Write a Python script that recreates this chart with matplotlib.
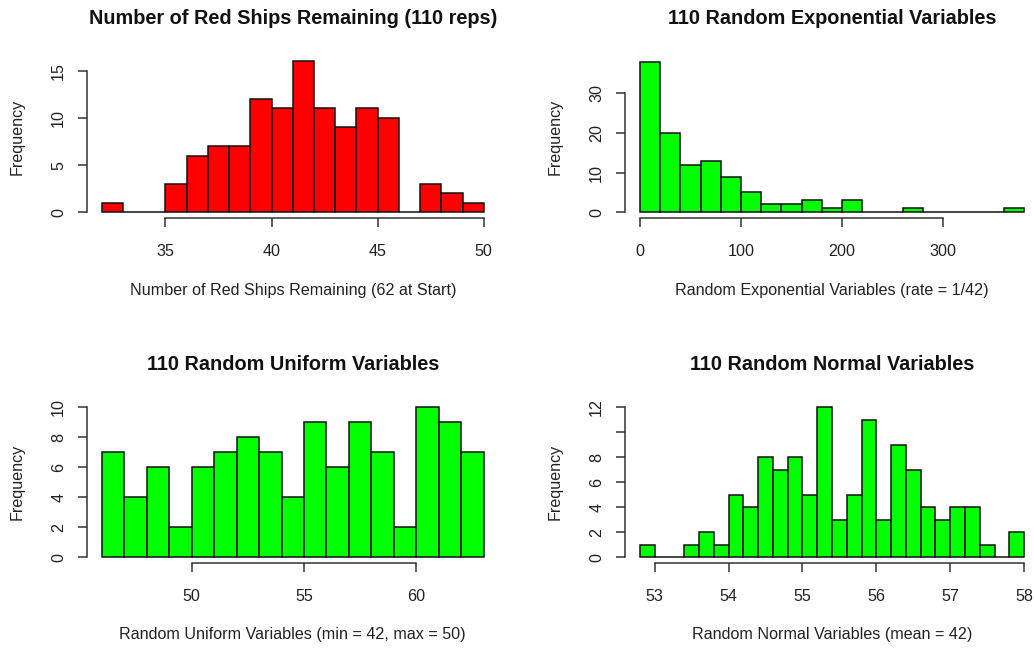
import numpy as np
import matplotlib
matplotlib.use("Agg")
import matplotlib.pyplot as plt

plt.rcParams['font.family'] = ['Liberation Sans', 'DejaVu Sans']

W, H = 1034, 649

# ---- data ----
red_edges_start, red_binw = 32, 1
red_counts = [1, 0, 0, 3, 6, 7, 7, 12, 11, 16, 11, 9, 11, 10, 0, 3, 2, 1]
red_xticks = [35, 40, 45, 50]
red_yticks = [0, 5, 10, 15]

exp_edges_start, exp_binw = 0, 20
exp_counts = [38, 20, 12, 13, 9, 5, 2, 2, 3, 1, 3, 0, 0, 1, 0, 0, 0, 0, 1]
exp_xticks = [0, 100, 200, 300]
exp_yticks = [0, 10, 20, 30]

uni_edges_start, uni_binw = 46, 1
uni_counts = [7, 4, 6, 2, 6, 7, 8, 7, 4, 9, 6, 9, 7, 2, 10, 9, 7]
uni_xticks = [50, 55, 60]
uni_yticks = [0, 2, 4, 6, 8, 10]

nor_edges_start, nor_binw = 52.8, 0.2
nor_counts = [1, 0, 0, 1, 2, 1, 5, 4, 8, 7, 8, 5, 12, 3, 5, 11, 3, 9, 7, 4, 3, 4, 4, 1, 0, 2]
nor_xticks = [53, 54, 55, 56, 57, 58]
nor_yticks = [0, 2, 4, 6, 8, 10, 12]
nor_yticklabels = ['0', '2', '4', '6', '8', '', '12']

panels = [
    dict(start=red_edges_start, bw=red_binw, counts=red_counts, xt=red_xticks, yt=red_yticks, ytl=None,
         color='#FF0000', title='Number of Red Ships Remaining (110 reps)',
         xlabel='Number of Red Ships Remaining (62 at Start)', left=86.5, right=499, top=55.2, bottom=218.3,
         title_y=18.5, xlabel_y=290, ylabel_x=17),
    dict(start=exp_edges_start, bw=exp_binw, counts=exp_counts, xt=exp_xticks, yt=exp_yticks, ytl=None,
         color='#00FF00', title='110 Random Exponential Variables',
         xlabel='Random Exponential Variables (rate = 1/42)', left=624.5, right=1039.5, top=55.6, bottom=218.3,
         title_y=18.5, xlabel_y=290, ylabel_x=555),
    dict(start=uni_edges_start, bw=uni_binw, counts=uni_counts, xt=uni_xticks, yt=uni_yticks, ytl=None,
         color='#00FF00', title='110 Random Uniform Variables',
         xlabel='Random Uniform Variables (min = 42, max = 50)', left=86.5, right=499, top=401.3, bottom=563.3,
         title_y=364, xlabel_y=635, ylabel_x=17),
    dict(start=nor_edges_start, bw=nor_binw, counts=nor_counts, xt=nor_xticks, yt=nor_yticks, ytl=nor_yticklabels,
         color='#00FF00', title='110 Random Normal Variables',
         xlabel='Random Normal Variables (mean = 42)', left=624.5, right=1039.5, top=401.3, bottom=563.3,
         title_y=364, xlabel_y=635, ylabel_x=555),
]

fig = plt.figure(figsize=(W / 100, H / 100), dpi=100)
fig.patch.set_facecolor('white')

axis_col = '#333333'
text_col = '#222222'
lab_fs = 11.6
for p in panels:
    ax = fig.add_axes([p['left'] / W, 1 - p['bottom'] / H,
                       (p['right'] - p['left']) / W, (p['bottom'] - p['top']) / H])
    n = len(p['counts'])
    edges = p['start'] + p['bw'] * np.arange(n + 1)
    ax.bar(edges[:-1], p['counts'], width=p['bw'], align='edge', color=p['color'],
           edgecolor='#111111', linewidth=1.1)
    x0, x1 = edges[0], edges[-1]
    m = 0.04 * (x1 - x0)
    ax.set_xlim(x0 - m, x1 + m)
    ymax = max(p['counts'])
    ax.set_ylim(-0.04 * ymax, ymax * 1.04)
    for s in ['top', 'right']:
        ax.spines[s].set_visible(False)
    ax.spines['left'].set_bounds(p['yt'][0], p['yt'][-1])
    ax.spines['bottom'].set_bounds(p['xt'][0], p['xt'][-1])
    for s in ['left', 'bottom']:
        ax.spines[s].set_color(axis_col)
        ax.spines[s].set_linewidth(1.1)
    ax.set_xticks(p['xt'])
    ax.set_yticks(p['yt'])
    if p['ytl'] is not None:
        ax.set_yticklabels(p['ytl'])
    ax.tick_params(direction='out', length=6.8, width=1.1, color=axis_col, labelsize=lab_fs, labelcolor=text_col)
    ax.tick_params(axis='x', pad=11.5)
    ax.tick_params(axis='y', pad=7.8)
    for lab in ax.get_yticklabels():
        lab.set_rotation(90)
        lab.set_va('center')
    ax.set_xlabel(p['xlabel'], fontsize=lab_fs, color=text_col)
    ax.xaxis.set_label_coords((p['left'] + p['right']) / 2 / W, 1 - p['xlabel_y'] / H, transform=fig.transFigure)
    ax.xaxis.label.set_va('center')
    ax.set_ylabel('Frequency', fontsize=lab_fs, color=text_col)
    ax.yaxis.set_label_coords(p['ylabel_x'] / W, 1 - ((p['top'] + p['bottom']) / 2) / H, transform=fig.transFigure)
    ax.yaxis.label.set_va('center')
    ax.set_facecolor('none')
    fig.text((p['left'] + p['right']) / 2 / W, 1 - p['title_y'] / H, p['title'],
             ha='center', va='center', fontsize=14.3, fontweight='bold', color='#111111')

fig.savefig('out.png', dpi=100)
